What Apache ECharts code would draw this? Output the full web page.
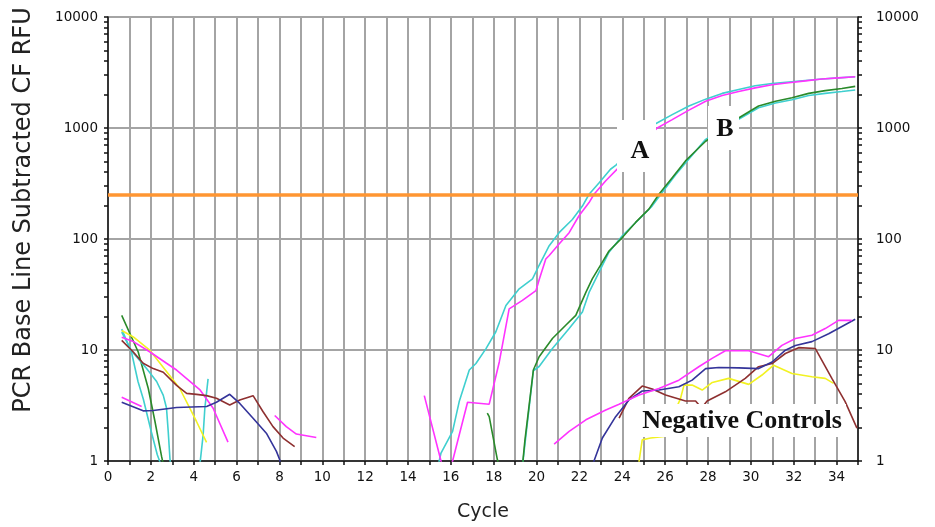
<!DOCTYPE html>
<html>
<head>
<meta charset="utf-8">
<script src="https://cdn.jsdelivr.net/npm/echarts@6/dist/echarts.min.js"></script>
<style>
  html, body { margin: 0; padding: 0; background: #fff; }
  #chart { width: 935px; height: 527px; }
</style>
</head>
<body>
<div id="chart"></div>
<script>
// axis labels
const xLabels = [0, 2, 4, 6, 8, 10, 12, 14, 16, 18, 20, 22, 24, 26, 28, 30, 32, 34]
const yLabels = [1, 10, 100, 1000, 10000]
const threshold = 250

// early-cycle noise traces, [cycle, RFU]
const greenEarly = [[0.64, 20.5], [1.41, 9.6], [1.88, 4.5], [2.19, 2.28], [2.5, 1.1], [2.6, 0.9]]
const cyanEarly1 = [[0.64, 15.4], [1.1, 9.5], [1.4, 5.2], [1.65, 3.6], [2.0, 1.9], [2.3, 1.14], [2.45, 0.95]]
const cyanEarly2 = [[0.64, 14.5], [1.1, 9.8], [1.8, 6.8], [2.27, 5.2], [2.58, 3.9], [2.73, 3.0], [2.81, 1.85], [2.89, 1.06], [2.92, 0.9]]
const cyanEarly3 = [[4.28, 0.9], [4.33, 1.1], [4.44, 1.72], [4.52, 3.0], [4.67, 5.5]]
const yellowEarly = [[0.64, 15], [1.18, 13.1], [1.96, 9.9], [2.73, 6.4], [3.35, 4.5], [4.13, 2.27], [4.6, 1.47]]
const magentaEarly1 = [[0.64, 13], [1.18, 11.9], [1.96, 9.6], [2.73, 7.6], [3.2, 6.6], [4.28, 4.4], [4.9, 3.0], [5.6, 1.48]]
const magentaEarly2 = [[0.64, 3.75], [1.57, 3.1]]
const magentaEarly3 = [[7.78, 2.57], [8.32, 2.04], [8.79, 1.75], [9.72, 1.63]]
const brownEarly = [[0.64, 12.2], [1.18, 9.6], [1.64, 7.6], [2.11, 6.8], [2.58, 6.3], [3.2, 4.8], [3.67, 4.07],
  [4.13, 3.98], [4.6, 3.88], [5.06, 3.67], [5.68, 3.2], [6.15, 3.55], [6.77, 3.88], [7.23, 2.79],
  [7.7, 2.04], [8.17, 1.61], [8.71, 1.35]]
const blueEarly = [[0.64, 3.38], [1.64, 2.83], [2.11, 2.85], [3.2, 3.03], [4.6, 3.1], [5.06, 3.38], [5.68, 3.99],
  [6.15, 3.3], [6.77, 2.43], [7.39, 1.78], [7.86, 1.22], [8.01, 1.03], [8.05, 0.9]]

// sample A (cyan + magenta)
const magentaA = [[14.76, 3.88], [15.54, 1.0], [15.8, 0.7], [16.08, 1.0], [16.78, 3.38], [17.79, 3.25],
  [18.26, 7.8], [18.72, 23.5], [19.34, 28], [19.97, 34.2], [20.12, 42.9], [20.43, 66], [20.59, 71],
  [21.05, 90], [21.52, 114], [21.98, 162], [22.45, 213], [22.68, 253], [23.23, 335], [23.93, 460],
  [25.63, 1000], [26.33, 1190], [27.11, 1450], [27.89, 1740], [28.66, 1960], [29.43, 2130], [30.2, 2300],
  [30.99, 2450], [31.77, 2560], [32.54, 2660], [33.32, 2760], [34.09, 2830], [34.87, 2900]]
const cyanA = [[15.4, 0.9], [15.54, 1.18], [16.08, 1.85], [16.39, 3.43], [16.86, 6.6], [17.17, 7.55],
  [17.64, 10.3], [18.1, 14.6], [18.57, 25.2], [19.19, 35.6], [19.81, 43.8], [20.12, 58], [20.59, 87],
  [21.05, 114], [21.67, 150], [22.14, 198], [22.45, 253], [22.91, 320], [23.45, 425], [23.69, 460],
  [25.47, 1070], [26.33, 1320], [27.11, 1580], [27.89, 1820], [28.66, 2050], [29.43, 2220], [30.2, 2400],
  [30.99, 2520], [31.77, 2600], [32.54, 2680], [33.32, 2760], [34.09, 2830], [34.87, 2900]]

// sample B (green + cyan)
const greenB = [[17.7, 2.7], [17.79, 2.51], [18.17, 1.03], [18.6, 0.5], [19.34, 0.9], [19.45, 1.5],
  [19.85, 6.6], [20.12, 8.7], [20.74, 12.7], [21.36, 16.7], [21.83, 20.5], [22.3, 33], [22.6, 43.8],
  [23.07, 62], [23.38, 78], [24.0, 103], [24.62, 141], [25.24, 186], [25.71, 253], [26.33, 357],
  [26.95, 505], [27.42, 620], [27.89, 760], [29.43, 1230], [30.36, 1580], [31.15, 1740], [31.92, 1870],
  [32.7, 2050], [33.47, 2170], [34.25, 2270], [34.87, 2370]]
const cyanB = [[19.34, 0.9], [19.85, 6.5], [20.12, 7.1], [20.74, 10.3], [21.52, 15.6], [22.14, 22],
  [22.45, 33], [22.91, 50], [23.38, 76], [24.0, 107], [24.77, 150], [25.39, 198], [25.86, 262],
  [26.49, 380], [27.11, 525], [27.89, 790], [29.43, 1200], [30.36, 1520], [31.15, 1680], [31.92, 1800],
  [32.7, 1960], [33.47, 2050], [34.25, 2130], [34.87, 2200]]

// negative controls
const magentaNC = [[20.82, 1.42], [21.52, 1.85], [22.3, 2.35], [23.23, 2.88], [23.85, 3.24], [24.78, 3.93],
  [25.71, 4.51], [26.64, 5.35], [27.57, 7.07], [28.19, 8.4], [28.81, 9.85], [29.9, 9.85], [30.83, 8.7],
  [31.45, 11.0], [32.08, 12.7], [32.85, 13.6], [33.47, 15.6], [34.09, 18.5], [34.71, 18.5]]
const blueNC = [[22.6, 0.9], [22.68, 1.0], [23.07, 1.61], [23.69, 2.51], [24.31, 3.55], [24.93, 4.27],
  [25.71, 4.36], [26.64, 4.67], [27.26, 5.35], [27.89, 6.8], [28.5, 6.96], [29.43, 6.9], [30.36, 6.8],
  [30.99, 7.8], [31.61, 9.96], [32.08, 11.0], [32.85, 11.9], [33.63, 14.0], [34.4, 16.9], [34.87, 18.9]]
const brownNC = [[23.85, 2.43], [24.31, 3.67], [24.93, 4.73], [25.4, 4.45], [26.02, 3.93], [26.95, 3.47],
  [27.42, 3.47], [27.7, 3.0], [27.96, 3.47], [28.81, 4.2], [29.74, 5.55], [30.36, 7.07], [30.99, 7.55],
  [31.61, 9.3], [32.23, 10.5], [33.01, 10.3], [33.78, 5.55], [34.4, 3.43], [34.95, 1.98]]
const yellowNC = [[24.75, 0.9], [24.93, 1.55], [25.32, 1.61], [25.94, 1.66], [26.72, 3.67], [26.88, 4.83],
  [27.26, 4.83], [27.73, 4.36], [28.2, 5.1], [28.96, 5.55], [29.9, 4.9], [30.52, 5.95], [31.06, 7.3],
  [31.92, 6.15], [32.85, 5.75], [33.47, 5.55], [33.86, 5.0]]

const CYAN = '#3fcfcf'
const MAGENTA = '#ff33ff'
const GREEN = '#2a8a2a'
const YELLOW = '#f2f222'
const BROWN = '#8e3030'
const BLUE = '#34349a'

const traces = [
  [greenEarly, GREEN], [cyanEarly1, CYAN], [cyanEarly2, CYAN], [cyanEarly3, CYAN],
  [yellowEarly, YELLOW], [magentaEarly1, MAGENTA], [magentaEarly2, MAGENTA], [magentaEarly3, MAGENTA],
  [brownEarly, BROWN], [blueEarly, BLUE],
  [cyanA, CYAN], [magentaA, MAGENTA], [cyanB, CYAN], [greenB, GREEN],
  [yellowNC, YELLOW], [brownNC, BROWN], [blueNC, BLUE], [magentaNC, MAGENTA],
]

// log-spaced minor ticks
const yTicks = []
for (let d = 1; d < 10000; d *= 10) {
  for (let k = 1; k < 10; k++) yTicks.push(k * d)
}
yTicks.push(10000)

const labelFont = { color: '#111', fontSize: 13.5, fontFamily: 'DejaVu Sans' }
const axisInk = { color: '#111', width: 1.5 }

function logAxis(pos, opts) {
  return Object.assign({
    type: 'log',
    position: pos,
    min: 1,
    max: 10000,
    logBase: 10,
    axisLine: { show: true, onZero: false, lineStyle: axisInk },
    axisTick: { show: true, length: 4, customValues: yTicks, lineStyle: axisInk },
    axisLabel: Object.assign({ customValues: yLabels, margin: pos === 'right' ? 18 : 10, formatter: v => String(v) }, labelFont),
    splitLine: { show: false },
    minorTick: { show: false },
  }, opts)
}

const series = traces.map(function (t) {
  return {
    type: 'line',
    data: t[0],
    showSymbol: false,
    symbol: 'none',
    clip: true,
    silent: true,
    animation: false,
    lineStyle: { color: t[1], width: 1.6 },
  }
})
// threshold line
series.push({
  type: 'line',
  data: [],
  silent: true,
  animation: false,
  markLine: {
    symbol: 'none',
    silent: true,
    label: { show: false },
    lineStyle: { color: '#ff9632', width: 3.5, type: 'solid' },
    data: [{ yAxis: threshold }],
  },
})

const chart = echarts.init(document.getElementById('chart'))
chart.setOption({
  animation: false,
  grid: { left: 108, right: 77, top: 17, bottom: 64, containLabel: false },
  xAxis: {
    type: 'value',
    min: 0,
    max: 35,
    interval: 1,
    name: 'Cycle',
    nameLocation: 'middle',
    nameGap: 42,
    nameTextStyle: { color: '#222', fontSize: 19, fontFamily: 'DejaVu Sans' },
    axisLine: { show: true, onZero: false, lineStyle: axisInk },
    axisTick: { show: true, length: 4, lineStyle: axisInk },
    axisLabel: Object.assign({ customValues: xLabels, margin: 9 }, labelFont),
    splitLine: { show: true, lineStyle: { color: '#a4a4a4', width: 2 } },
  },
  yAxis: [
    // left: labels + decade grid lines
    logAxis('left', {
      axisTick: { show: true, length: 4, lineStyle: axisInk },
      splitLine: { show: true, lineStyle: { color: '#a4a4a4', width: 2 } },
    }),
    // right: labels + minor ticks
    logAxis('right'),
    // left minor ticks only
    logAxis('left', { axisLabel: { show: false }, axisLine: { show: false } }),
  ],
  series: series,
  graphic: [
    {
      type: 'text', z: 100, x: 24, y: 210, rotation: Math.PI / 2,
      style: {
        text: 'PCR Base Line Subtracted CF RFU', fill: '#222',
        font: '24px "DejaVu Sans"', align: 'center', verticalAlign: 'middle',
      },
    },
    // white boxes behind the annotations
    { type: 'rect', z: 100, shape: { x: 617, y: 120, width: 39, height: 52 }, style: { fill: '#fff' } },
    { type: 'rect', z: 100, shape: { x: 708, y: 106, width: 31, height: 44 }, style: { fill: '#fff' } },
    { type: 'rect', z: 100, shape: { x: 638, y: 404, width: 208, height: 33 }, style: { fill: '#fff' } },
    {
      type: 'text', z: 101, x: 640, y: 151,
      style: { text: 'A', fill: '#111', font: 'bold 26px "Liberation Serif"', align: 'center', verticalAlign: 'middle' },
    },
    {
      type: 'text', z: 101, x: 725, y: 129,
      style: { text: 'B', fill: '#111', font: 'bold 26px "Liberation Serif"', align: 'center', verticalAlign: 'middle' },
    },
    {
      type: 'text', z: 101, x: 742, y: 421,
      style: { text: 'Negative Controls', fill: '#111', font: 'bold 26px "Liberation Serif"', align: 'center', verticalAlign: 'middle' },
    },
  ],
})
</script>
</body>
</html>
